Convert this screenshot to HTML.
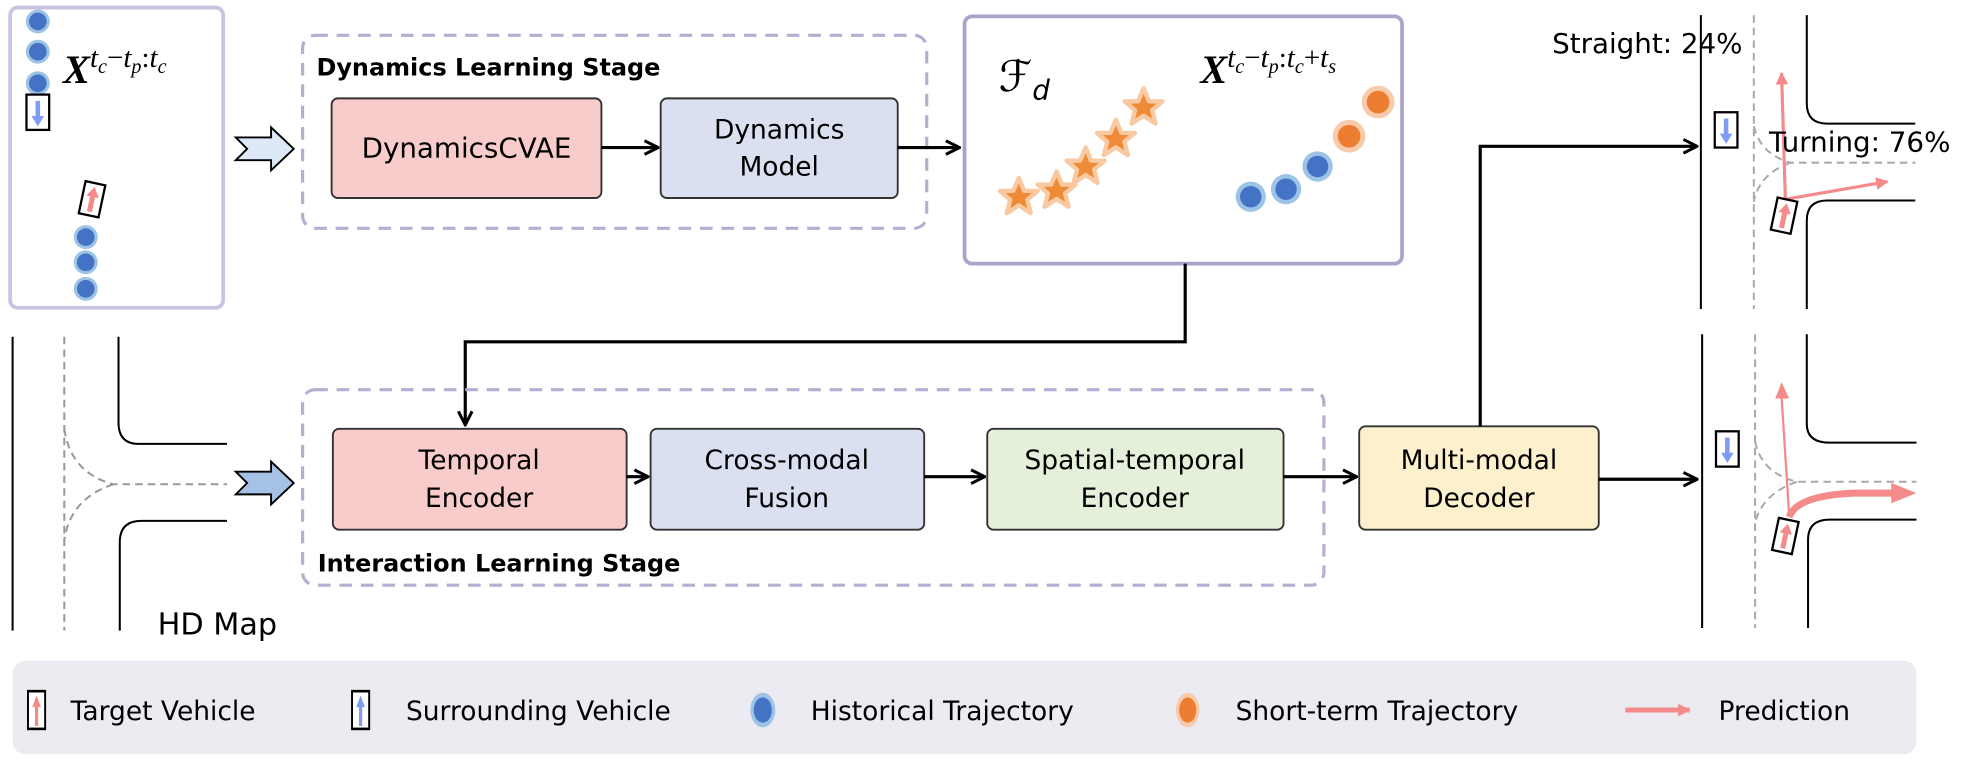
<!DOCTYPE html>
<html><head><meta charset="utf-8"><style>
html,body{margin:0;padding:0;background:#fff;}
svg{display:block;}
text{font-family:"DejaVu Sans","Liberation Sans",sans-serif;fill:#000;}
.m{font-family:"Liberation Serif",serif;font-style:italic;}
</style></head><body>
<svg width="1977" height="763" viewBox="0 0 1568 605" preserveAspectRatio="none" xmlns="http://www.w3.org/2000/svg">
<defs>
<marker id="ah" viewBox="0 0 12 12" refX="11" refY="6" markerWidth="13" markerHeight="13" markerUnits="userSpaceOnUse" orient="auto"><path d="M1,1 L11,6 L1,11" fill="none" stroke="#000" stroke-width="2.2"/></marker>
<marker id="ph" viewBox="0 0 10 10" refX="9" refY="5" markerWidth="10" markerHeight="10" markerUnits="userSpaceOnUse" orient="auto"><path d="M0,0 L10,5 L0,10 Z" fill="#f48a8a"/></marker>
<g id="star"><path d="M0,-15 L4.3,-4.7 L15,-4.6 L6.8,2.4 L9.5,13 L0,6.8 L-9.5,13 L-6.8,2.4 L-15,-4.6 L-4.3,-4.7 Z" fill="#ef8a36" stroke="#f9c9a2" stroke-width="3.5" stroke-linejoin="round"/></g>
<g id="bd"><circle r="9.5" fill="#9dc3e6"/><circle r="7" fill="#4472c4"/></g>
<g id="bdl"><circle r="12" fill="#9dc3e6"/><circle r="8.5" fill="#4472c4"/></g>
<g id="od"><circle r="13" fill="#f8cbad"/><circle r="9" fill="#ed7d31"/></g>
<g id="dn"><rect x="-9" y="-14" width="18" height="28" fill="#fff" stroke="#000" stroke-width="1.8"/><path d="M-1.8,-9 L1.8,-9 L1.8,3 L5,3 L0,11 L-5,3 L-1.8,3 Z" fill="#7d9cf2"/></g>
<g id="up"><rect x="-8" y="-13" width="16" height="26" fill="#fff" stroke="#000" stroke-width="1.8"/><path d="M-2,10 L2,10 L2,-2 L5,-2 L0,-10 L-5,-2 L-2,-2 Z" fill="#f48a8a"/></g>
</defs>

<!-- left input box -->
<rect x="8" y="6" width="169" height="238" rx="6" fill="#fff" stroke="#c9c5e0" stroke-width="3"/>
<use href="#bd" x="30" y="17"/><use href="#bd" x="30" y="41"/><use href="#bd" x="30" y="66"/>
<use href="#dn" x="30" y="89"/>
<use href="#up" x="73" y="158" transform="rotate(12 73 158)"/>
<use href="#bd" x="68" y="188"/><use href="#bd" x="68" y="208"/><use href="#bd" x="68" y="229"/>
<text x="50" y="66" font-size="32"><tspan class="m" font-weight="bold">X</tspan><tspan class="m" font-size="23" dy="-13">t</tspan><tspan class="m" font-size="16" dy="5">c</tspan><tspan font-family="Liberation Serif" font-size="23" dy="-5">−</tspan><tspan class="m" font-size="23">t</tspan><tspan class="m" font-size="16" dy="5">p</tspan><tspan font-family="Liberation Serif" font-size="23" dy="-5">:</tspan><tspan class="m" font-size="23">t</tspan><tspan class="m" font-size="16" dy="5">c</tspan></text>

<!-- chevron arrows -->
<path d="M187,109 L215,109 L215,101 L233,118 L215,135 L215,127 L187,127 L196,118 Z" fill="#dde9f6" stroke="#000" stroke-width="1.5"/>
<path d="M187,374 L215,374 L215,366 L233,383 L215,400 L215,392 L187,392 L196,383 Z" fill="#a5c2e4" stroke="#000" stroke-width="1.5"/>

<!-- Dynamics stage -->
<rect x="240" y="28" width="495" height="153" rx="10" fill="none" stroke="#b3aed2" stroke-width="2.5" stroke-dasharray="10 7"/>
<text x="251" y="60" font-size="19" font-weight="bold">Dynamics Learning Stage</text>
<rect x="263" y="78" width="214" height="79" rx="5" fill="#f9cccc" stroke="#333" stroke-width="1.5"/>
<text x="370" y="125" font-size="22" text-anchor="middle">DynamicsCVAE</text>
<rect x="524" y="78" width="188" height="79" rx="5" fill="#dae0f0" stroke="#333" stroke-width="1.5"/>
<text x="618" y="110" font-size="21" text-anchor="middle">Dynamics</text>
<text x="618" y="139" font-size="21" text-anchor="middle">Model</text>
<line x1="477" y1="117" x2="522" y2="117" stroke="#000" stroke-width="2.5" marker-end="url(#ah)"/>
<line x1="712" y1="117" x2="761" y2="117" stroke="#000" stroke-width="2.5" marker-end="url(#ah)"/>

<!-- Fd box -->
<rect x="765" y="13" width="347" height="196" rx="6" fill="#fff" stroke="#aaa4cc" stroke-width="3"/>
<text x="792" y="72" font-size="34" font-family="Liberation Serif" font-style="italic">ℱ<tspan font-size="22" dy="7">d</tspan></text>
<use href="#star" x="808" y="156"/><use href="#star" x="838" y="151"/><use href="#star" x="861" y="132"/><use href="#star" x="885" y="110"/><use href="#star" x="907" y="85"/>
<use href="#bdl" x="992" y="156"/><use href="#bdl" x="1020" y="150"/><use href="#bdl" x="1045" y="132"/>
<use href="#od" x="1070" y="108"/><use href="#od" x="1093" y="81"/>
<text x="952" y="66" font-size="32"><tspan class="m" font-weight="bold">X</tspan><tspan class="m" font-size="23" dy="-13">t</tspan><tspan class="m" font-size="16" dy="5">c</tspan><tspan font-family="Liberation Serif" font-size="23" dy="-5">−</tspan><tspan class="m" font-size="23">t</tspan><tspan class="m" font-size="16" dy="5">p</tspan><tspan font-family="Liberation Serif" font-size="23" dy="-5">:</tspan><tspan class="m" font-size="23">t</tspan><tspan class="m" font-size="16" dy="5">c</tspan><tspan font-family="Liberation Serif" font-size="23" dy="-5">+</tspan><tspan class="m" font-size="23">t</tspan><tspan class="m" font-size="16" dy="5">s</tspan></text>

<!-- connector Fd -> Temporal -->
<polyline points="940,209 940,271 369,271 369,337" fill="none" stroke="#000" stroke-width="2.5" marker-end="url(#ah)"/>

<!-- Interaction stage -->
<rect x="240" y="309" width="810" height="155" rx="10" fill="none" stroke="#b3aed2" stroke-width="2.5" stroke-dasharray="10 7"/>
<text x="252" y="453" font-size="19" font-weight="bold">Interaction Learning Stage</text>
<rect x="264" y="340" width="233" height="80" rx="5" fill="#f9cccc" stroke="#333" stroke-width="1.5"/>
<text x="380" y="372" font-size="21" text-anchor="middle">Temporal</text>
<text x="380" y="402" font-size="21" text-anchor="middle">Encoder</text>
<rect x="516" y="340" width="217" height="80" rx="5" fill="#dae0f0" stroke="#333" stroke-width="1.5"/>
<text x="624" y="372" font-size="21" text-anchor="middle">Cross-modal</text>
<text x="624" y="402" font-size="21" text-anchor="middle">Fusion</text>
<rect x="783" y="340" width="235" height="80" rx="5" fill="#e4f0d9" stroke="#333" stroke-width="1.5"/>
<text x="900" y="372" font-size="21" text-anchor="middle">Spatial-temporal</text>
<text x="900" y="402" font-size="21" text-anchor="middle">Encoder</text>
<rect x="1078" y="338" width="190" height="82" rx="5" fill="#fdf0cd" stroke="#333" stroke-width="1.5"/>
<text x="1173" y="372" font-size="21" text-anchor="middle">Multi-modal</text>
<text x="1173" y="402" font-size="21" text-anchor="middle">Decoder</text>
<line x1="497" y1="378" x2="514" y2="378" stroke="#000" stroke-width="2.5" marker-end="url(#ah)"/>
<line x1="733" y1="378" x2="781" y2="378" stroke="#000" stroke-width="2.5" marker-end="url(#ah)"/>
<line x1="1018" y1="378" x2="1076" y2="378" stroke="#000" stroke-width="2.5" marker-end="url(#ah)"/>
<line x1="1268" y1="380" x2="1346" y2="380" stroke="#000" stroke-width="2.5" marker-end="url(#ah)"/>
<polyline points="1174,338 1174,116 1346,116" fill="none" stroke="#000" stroke-width="2.5" marker-end="url(#ah)"/>

<!-- HD map left -->
<g fill="none" stroke-width="1.6">
<line x1="10" y1="267" x2="10" y2="500" stroke="#000"/>
<path d="M94,267 L94,335 Q94,352 110,352 L180,352" stroke="#000"/>
<path d="M180,413 L112,413 Q95,413 95,430 L95,500" stroke="#000"/>
<line x1="51" y1="267" x2="51" y2="500" stroke="#999" stroke-dasharray="6 4"/>
<path d="M51,340 Q56,375 90,384 L180,384" stroke="#999" stroke-dasharray="6 4"/>
<path d="M90,384 Q56,395 51,428" stroke="#999" stroke-dasharray="6 4"/>
</g>
<text x="125" y="503" font-size="24">HD Map</text>

<!-- top right map -->
<g fill="none" stroke-width="1.6">
<line x1="1349" y1="12" x2="1349" y2="245" stroke="#000"/>
<path d="M1433,12 L1433,82 Q1433,98 1449,98 L1519,98" stroke="#000"/>
<path d="M1519,159 L1449,159 Q1433,159 1433,175 L1433,245" stroke="#000"/>
<line x1="1391" y1="12" x2="1391" y2="245" stroke="#aaa" stroke-dasharray="6 4"/>
<path d="M1391,100 Q1396,122 1420,129 L1519,129" stroke="#aaa" stroke-dasharray="6 4"/>
<path d="M1420,129 Q1395,138 1391,160" stroke="#aaa" stroke-dasharray="6 4"/>
<line x1="1416" y1="158" x2="1413" y2="58" stroke="#f48a8a" stroke-width="2.5" marker-end="url(#ph)"/>
<line x1="1416" y1="158" x2="1497" y2="144" stroke="#f48a8a" stroke-width="2.5" marker-end="url(#ph)"/>
</g>
<use href="#dn" x="1369" y="103"/>
<use href="#up" x="1415" y="171" transform="rotate(12 1415 171)"/>
<text x="1231" y="42" font-size="22">Straight: 24%</text>
<text x="1403" y="120" font-size="22">Turning: 76%</text>

<!-- bottom right map -->
<g fill="none" stroke-width="1.6">
<line x1="1350" y1="265" x2="1350" y2="498" stroke="#000"/>
<path d="M1433,265 L1433,336 Q1433,351 1451,351 L1520,351" stroke="#000"/>
<path d="M1520,412 L1451,412 Q1434,412 1434,428 L1434,498" stroke="#000"/>
<line x1="1392" y1="265" x2="1392" y2="498" stroke="#aaa" stroke-dasharray="6 4"/>
<path d="M1392,350 Q1397,375 1425,382 L1520,382" stroke="#aaa" stroke-dasharray="6 4"/>
<path d="M1425,382 Q1397,392 1392,415" stroke="#aaa" stroke-dasharray="6 4"/>
<path d="M1419,408 Q1416,360 1413,315" stroke="#f48a8a" stroke-width="1.8"/>
<path d="M1408,316 L1413,303 L1419,316 Z" fill="#f48a8a"/>
<path d="M1419,410 Q1425,393 1470,391 L1503,391" stroke="#f48a8a" stroke-width="5.5"/>
<path d="M1500,383 L1520,391 L1500,399 Z" fill="#f48a8a"/>
</g>
<use href="#dn" x="1370" y="356"/>
<use href="#up" x="1416" y="425" transform="rotate(12 1416 425)"/>

<!-- legend -->
<rect x="10" y="524" width="1510" height="74" rx="10" fill="#ecebf1"/>
<g transform="translate(29 563) scale(0.85 1.15)"><rect x="-8" y="-13" width="16" height="26" fill="#fff" stroke="#000" stroke-width="1.8"/><path d="M-1.5,11 L1.5,11 L1.5,-2 L4,-2 L0,-10 L-4,-2 L-1.5,-2 Z" fill="#f48a8a"/></g>
<text x="56" y="571" font-size="21">Target Vehicle</text>
<g transform="translate(286 563) scale(0.85 1.15)"><rect x="-8" y="-13" width="16" height="26" fill="#fff" stroke="#000" stroke-width="1.8"/><path d="M-1.5,11 L1.5,11 L1.5,-2 L4,-2 L0,-10 L-4,-2 L-1.5,-2 Z" fill="#7d9cf2"/></g>
<text x="322" y="571" font-size="21">Surrounding Vehicle</text>
<g transform="translate(605 563) scale(0.9 1.25)"><circle r="11" fill="#9dc3e6"/><circle r="8" fill="#4472c4"/></g>
<text x="643" y="571" font-size="21">Historical Trajectory</text>
<g transform="translate(942 563) scale(0.85 1.25)"><circle r="11" fill="#f8cbad"/><circle r="8" fill="#ed7d31"/></g>
<text x="980" y="571" font-size="21">Short-term Trajectory</text>
<line x1="1289" y1="563" x2="1340" y2="563" stroke="#f48a8a" stroke-width="4" marker-end="url(#ph)"/>
<text x="1363" y="571" font-size="21">Prediction</text>
</svg>
</body></html>
